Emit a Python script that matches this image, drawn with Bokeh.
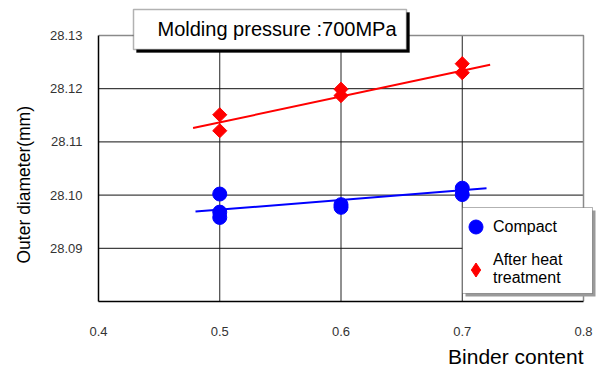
from math import pi
from bokeh.plotting import figure
from bokeh.models import (Label, Legend, LegendItem, FixedTicker, PrintfTickFormatter,
                          Range1d, BoxAnnotation, Title)
from bokeh.embed import file_html
from bokeh.resources import INLINE

# ---- data ----
compact_x = [0.5, 0.5, 0.5, 0.6, 0.6, 0.7, 0.7]
compact_y = [28.1002, 28.0968, 28.0958, 28.0982, 28.0977, 28.1013, 28.1001]
heat_x = [0.5, 0.5, 0.6, 0.6, 0.7, 0.7]
heat_y = [28.1151, 28.1121, 28.1199, 28.1187, 28.1247, 28.1230]
compact_fit_x = [0.48, 0.72]
compact_fit_y = [28.0969, 28.1013]
heat_fit_x = [0.478, 0.723]
heat_fit_y = [28.1126, 28.1245]
x_ticks = [0.4, 0.5, 0.6, 0.7, 0.8]
y_ticks = [28.09, 28.10, 28.11, 28.12, 28.13]
x_lo, x_hi = 0.4, 0.8
y_lo, y_hi = 28.08, 28.13

FONT = "Liberation Sans"

# frame is a little larger than the axes box so that the title box and the
# legend (which straddle the box edges in the original) are not clipped
p = figure(width=600, height=374,
           x_range=Range1d(x_lo, x_lo + 499 / 1212.5),
           y_range=Range1d(y_lo, y_lo + 297 / 5320),
           output_backend="svg", toolbar_location=None,
           min_border_left=98, min_border_right=3, min_border_top=4, min_border_bottom=73)
p.background_fill_color = "white"
p.border_fill_color = "white"
p.outline_line_color = None
p.xgrid.visible = False
p.ygrid.visible = False

# axes
for ax in (p.xaxis[0], p.yaxis[0]):
    ax.axis_line_color = "black"
    ax.axis_line_width = 1.5
    ax.major_tick_in = 0
    ax.major_tick_out = 0
    ax.minor_tick_in = 0
    ax.minor_tick_out = 0
    ax.major_label_text_font = FONT
    ax.major_label_text_font_size = "13px"
    ax.major_label_text_color = "#333333"
p.xaxis.bounds = (x_lo, x_hi)
p.yaxis.bounds = (y_lo, y_hi)
p.xaxis.ticker = FixedTicker(ticks=x_ticks)
p.xaxis.formatter = PrintfTickFormatter(format="%.1f")
p.xaxis.major_label_standoff = 25
p.yaxis.ticker = FixedTicker(ticks=y_ticks)
p.yaxis.formatter = PrintfTickFormatter(format="%.2f")
p.yaxis.major_label_standoff = 16

yt = Title(text="Outer diameter(mm)", align="left", offset=38, vertical_align="middle",
           text_font=FONT, text_font_size="17.5px", text_font_style="normal",
           text_color="black", standoff=23)
p.add_layout(yt, "left")

xt = Title(text="Binder content", align="right", offset=14, text_font=FONT,
           text_font_size="21px", text_font_style="normal", text_color="black", standoff=9)
p.add_layout(xt, "below")

# grid lines at the inner ticks, and the grey top/right box edges
inner_x = x_ticks[1:-1]
inner_y = y_ticks[:-1]
p.segment(x0=inner_x, x1=inner_x, y0=[y_lo] * len(inner_x), y1=[y_hi] * len(inner_x),
          line_color="#222222", line_width=1)
p.segment(x0=[x_lo] * len(inner_y), x1=[x_hi] * len(inner_y), y0=inner_y, y1=inner_y,
          line_color="#111111", line_width=1)
p.line([x_lo, x_hi, x_hi], [y_hi, y_hi, y_lo], line_color="#8a8a8a", line_width=1.5)

# fit lines
p.line(compact_fit_x, compact_fit_y, line_color="#0000FF", line_width=2)
p.line(heat_fit_x, heat_fit_y, line_color="#FF0000", line_width=2)

# points
r_c = p.scatter(compact_x, compact_y, marker="circle", size=14,
                fill_color="#0000FF", line_color="#0000FF")
r_h = p.scatter(heat_x, heat_y, marker="square", size=10, angle=pi / 4,
                fill_color="#FF0000", line_color="#FF0000")
# same series as a diamond, only used for the legend swatch
r_h_leg = p.scatter(heat_x, heat_y, marker="diamond", size=14,
                    fill_color="#FF0000", line_color="#FF0000", visible=False)

# title box (with shadow)
p.add_layout(BoxAnnotation(left=0.431340, right=0.656495, top=28.134323, bottom=28.126805,
                           fill_color="black", fill_alpha=1, line_color="black"))
p.add_layout(BoxAnnotation(left=0.428866, right=0.654021, top=28.134887, bottom=28.127368,
                           fill_color="white", fill_alpha=1, line_color="black", line_width=1.5))
p.add_layout(Label(x=0.448660, y=28.131128, text="Molding pressure :700MPa",
                   text_font=FONT, text_font_size="20px", text_color="black",
                   text_align="left", text_baseline="middle"))

# legend box (with shadow)
p.add_layout(BoxAnnotation(left=0.702680, right=0.809897, top=28.097105, bottom=28.080940,
                           fill_color="#9a9a9a", fill_alpha=1, line_color=None))
p.add_layout(BoxAnnotation(left=0.700206, right=0.807423, top=28.097669, bottom=28.081504,
                           fill_color="white", fill_alpha=1, line_color="black", line_width=1))

legend = Legend(items=[LegendItem(label="Compact", renderers=[r_c]),
                       LegendItem(label="After heat\ntreatment", renderers=[r_h_leg])],
                location=(360, 14))
legend.label_text_font = FONT
legend.label_text_font_size = "16px"
legend.label_text_color = "black"
legend.border_line_color = None
legend.background_fill_alpha = 0
legend.padding = 0
legend.spacing = 7
legend.glyph_width = 35
legend.glyph_height = 35
legend.label_standoff = 0
legend.margin = 0
p.add_layout(legend)

open("out.html", "w").write(file_html(p, INLINE))
